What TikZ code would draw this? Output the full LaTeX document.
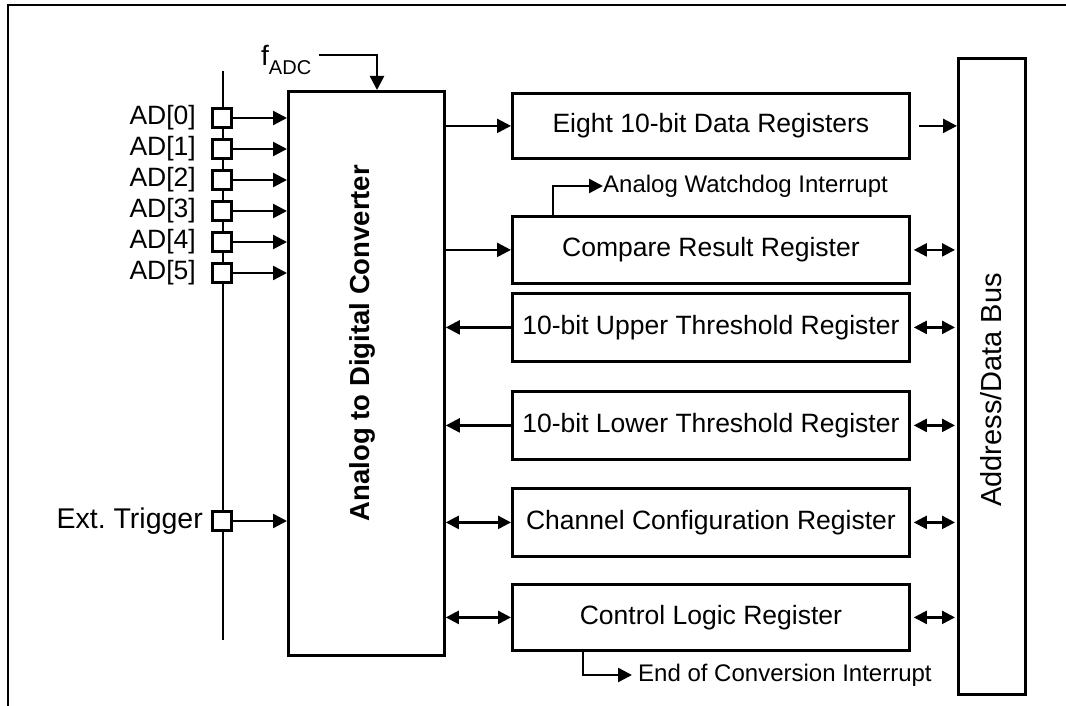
\documentclass[tikz,border=0pt]{standalone}
\usepackage{fontspec}
\setmainfont{Liberation Sans}
\usetikzlibrary{arrows.meta,calc}
\begin{document}
\frenchspacing
\begin{tikzpicture}[x=1pt,y=-1pt,
  box/.style={draw,line width=2.8pt,inner sep=0pt,anchor=north west,font=\fontsize{26.5}{30}\selectfont},
  reg/.style={box,minimum width=397pt},
  pin/.style={draw,line width=2.4pt,fill=white,minimum width=19pt,minimum height=19pt,inner sep=0pt},
  lbl/.style={font=\fontsize{26.5}{30}\selectfont,inner sep=0pt},
  sml/.style={font=\fontsize{24}{28}\selectfont,inner sep=0pt},
  wire/.style={line width=2.4pt},
  arr/.style={wire,-{Triangle[length=14pt,width=14pt]}},
  darr/.style={wire,{Triangle[length=13pt,width=13pt]}-{Triangle[length=13pt,width=13pt]}},
]
\useasboundingbox (0,0) rectangle (1066,706);
% frame (top and left edges visible)
\coordinate (ftl) at (8,5);
\coordinate (ftr) at (1066,5);
\coordinate (fbl) at (8,706);
\draw[line width=2.8pt] (fbl) -- (ftl) -- (ftr);

% main blocks
\node[box,minimum width=156pt,minimum height=564pt] (adc) at (287,90) {};
\node[lbl,font=\fontsize{27.5}{30}\selectfont\bfseries,rotate=90] (adct) at (362,343) {Analog to Digital Converter};
\node[box,minimum width=67pt,minimum height=636pt] (bus) at (957,57) {};
\node[lbl,font=\fontsize{29}{30}\selectfont,rotate=90] (bust) at (991,390) {Address/Data Bus};

\node[reg,minimum height=65pt] (eight) at (511,92) {Eight 10-bit Data Registers};
\node[reg,minimum height=67pt] (cmp) at (511,215) {Compare Result Register};
\node[reg,minimum height=68pt] (upp) at (511,292) {10-bit Upper Threshold Register};
\node[reg,minimum height=68pt] (low) at (511,390) {10-bit Lower Threshold Register};
\node[reg,minimum height=68pt] (chn) at (511,487) {Channel Configuration Register};
\node[reg,minimum height=66pt] (ctl) at (511,583) {Control Logic Register};

% input rail
\coordinate (rt) at (223,71);
\coordinate (rb) at (223,640);
\draw[wire] (rt) -- (rb);

\foreach \i/\y in {0/118,1/149,2/180,3/211,4/242,5/273}{
  \node[pin] (p\i) at (222,\y) {};
  \node[lbl,anchor=east] (l\i) at (196,\y) {AD[\i]};
  \draw[arr] (p\i.east) -- (p\i.east -| adc.west);
}
\node[pin] (pt) at (222,521) {};
\node[lbl,anchor=east,font=\fontsize{28.5}{30}\selectfont] (lt) at (203,521) {Ext. Trigger};
\draw[arr] (pt.east) -- (pt.east -| adc.west);

% f_ADC clock
\node[lbl,anchor=base west] (fadc) at (261,66) {\fontsize{28}{30}\selectfont f\raisebox{-0.3em}{\fontsize{20}{20}\selectfont ADC}};
\coordinate (fs) at (319,55);
\coordinate (fe) at (377,90);
\draw[arr] (fs) -| (fe);

% ADC <-> registers
\draw[arr] (eight.west -| adc.east) -- (eight.west);
\draw[arr] (cmp.west -| adc.east) -- (cmp.west);
\draw[arr] (upp.west) -- (upp.west -| adc.east);
\draw[arr] (low.west) -- (low.west -| adc.east);
\draw[darr] (chn.west -| adc.east) -- (chn.west);
\draw[darr] (ctl.west -| adc.east) -- (ctl.west);

% registers <-> bus
\draw[arr,shorten <=8pt] (eight.east) -- (eight.east -| bus.west);
\foreach \n in {cmp,upp,low,chn,ctl}{
  \draw[darr,shorten <=3pt,shorten >=2pt] (\n.east) -- (\n.east -| bus.west);
}

% interrupts
\coordinate (wd0) at ($(cmp.north west)+(42,0)$);
\node[sml,anchor=west] (wdt) at (603,186) {Analog Watchdog Interrupt};
\draw[arr] (wd0) |- (wdt.west);
\coordinate (eo0) at ($(ctl.south west)+(72,0)$);
\node[sml,anchor=west] (eot) at (638,675) {End of Conversion Interrupt};
\draw[arr,shorten >=6pt] (eo0) |- (eot.west);
\end{tikzpicture}
\end{document}
